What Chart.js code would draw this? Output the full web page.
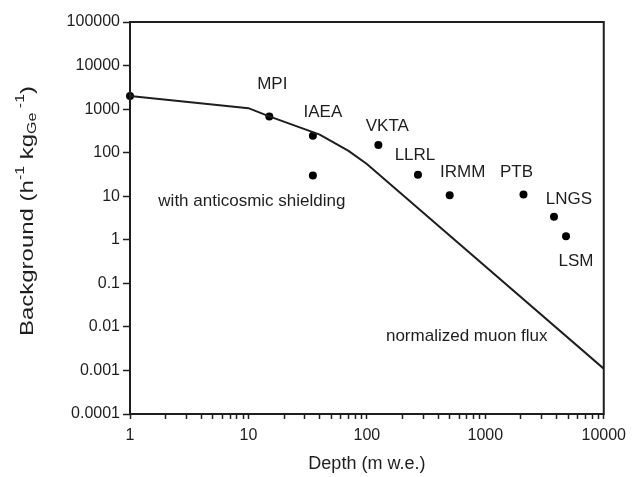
<!DOCTYPE html>
<html>
<head>
<meta charset="utf-8">
<script src="https://cdn.jsdelivr.net/npm/chart.js@4.4.1/dist/chart.umd.min.js"></script>
<style>
  html, body { margin: 0; padding: 0; background: #fff; }
  #wrap { width: 633px; height: 477px; position: relative; }
  canvas { display: block; }
</style>
</head>
<body>
<div id="wrap"><canvas id="c" width="633" height="477"></canvas></div>
<script>
// ---- data ----
const labNames   = ['', 'MPI', 'IAEA', 'IAEA*', 'VKTA', 'LLRL', 'IRMM', 'PTB', 'LNGS', 'LSM'];
const labDepth   = [1, 15, 35, 35, 125, 270, 500, 2100, 3800, 4800];
const labBackgr  = [2000, 680, 245, 30, 150, 31, 10.5, 11, 3.4, 1.2];

const muonDepth  = [1, 10, 15, 40, 70, 100, 10000];
const muonFlux   = [2000, 1050, 680, 260, 110, 55, 0.0011];

const xTickValues = [1, 10, 100, 1000, 10000];
const xTickLabels = ['1', '10', '100', '1000', '10000'];
const yTickValues = [0.0001, 0.001, 0.01, 0.1, 1, 10, 100, 1000, 10000, 100000];
const yTickLabels = ['0.0001', '0.001', '0.01', '0.1', '1', '10', '100', '1000', '10000', '100000'];

// ---- annotation placement (pixel offsets from each lab's point) ----
const labelOffsets = {
  'MPI':  [3, -32],
  'IAEA': [10, -23],
  'VKTA': [9, -19],
  'LLRL': [-3, -20],
  'IRMM': [13, -23],
  'PTB':  [-7, -22],
  'LNGS': [15, -17],
  'LSM':  [10, 25],
  'IAEA*': [-61, 26]
};
const starText = 'with anticosmic shielding';
const muonNote = { text: 'normalized muon flux', x: 697, y: 0.006 };

const INK = '#1e1e1e';
const FONT = 'Liberation Sans, Arial, Helvetica, sans-serif';

// minor x ticks built from decades
function xMinorTicks() {
  const t = [];
  for (let d = 0; d < xTickValues.length - 1; d++) {
    for (let k = 1; k < 10; k++) t.push({ value: xTickValues[d] * k });
  }
  t.push({ value: xTickValues[xTickValues.length - 1] });
  return t;
}

const annotPlugin = {
  id: 'annot',
  afterDatasetsDraw(chart) {
    const ctx = chart.ctx;
    const xs = chart.scales.x, ys = chart.scales.y;
    const ca = chart.chartArea;
    ctx.save();
    // frame
    ctx.strokeStyle = INK;
    ctx.lineWidth = 2;
    ctx.strokeRect(ca.left, ca.top, ca.right - ca.left, ca.bottom - ca.top);
    // labels
    ctx.fillStyle = INK;
    ctx.font = '17px ' + FONT;
    ctx.textAlign = 'center';
    ctx.textBaseline = 'middle';
    labNames.forEach((n, i) => {
      if (!labelOffsets[n]) return;
      const px = xs.getPixelForValue(labDepth[i]) + labelOffsets[n][0];
      const py = ys.getPixelForValue(labBackgr[i]) + labelOffsets[n][1];
      ctx.fillText(n === 'IAEA*' ? starText : n, px, py);
    });
    ctx.fillText(muonNote.text, xs.getPixelForValue(muonNote.x), ys.getPixelForValue(muonNote.y));
    // y axis title with sub/superscripts
    const cy = 211;
    ctx.translate(28, cy);
    ctx.rotate(-Math.PI / 2);
    const parts = [
      ['Background (h', 0, 18],
      ['-1', -7, 12],
      [' kg', 0, 18],
      ['Ge', 5, 12],
      [' -1', -7, 12],
      [')', 0, 18]
    ];
    let total = 0;
    parts.forEach(p => { ctx.font = p[2] + 'px ' + FONT; total += ctx.measureText(p[0]).width; });
    const stretch = 250 / total;
    ctx.scale(stretch, 1);
    let x = -total / 2;
    ctx.textAlign = 'left';
    parts.forEach(p => {
      ctx.font = p[2] + 'px ' + FONT;
      ctx.fillText(p[0], x, p[1]);
      x += ctx.measureText(p[0]).width;
    });
    ctx.restore();
  }
};

new Chart(document.getElementById('c'), {
  type: 'scatter',
  data: {
    datasets: [
      {
        data: muonDepth.map((d, i) => ({ x: d, y: muonFlux[i] })),
        showLine: true,
        borderColor: INK,
        borderWidth: 2,
        pointRadius: 0,
        tension: 0,
        fill: false
      },
      {
        data: labDepth.map((d, i) => ({ x: d, y: labBackgr[i] })),
        showLine: false,
        pointRadius: 4,
        pointBackgroundColor: '#000',
        pointBorderColor: '#000',
        pointBorderWidth: 0,
        clip: false
      }
    ]
  },
  options: {
    responsive: false,
    animation: false,
    devicePixelRatio: 1,
    layout: { padding: { left: 0, top: 22, right: 26, bottom: 0 } },
    plugins: { legend: { display: false }, tooltip: { enabled: false } },
    scales: {
      x: {
        type: 'logarithmic',
        min: 1, max: 10000,
        afterBuildTicks: s => { s.ticks = xMinorTicks(); },
        afterFit: s => { s.height = 63; },
        border: { display: false },
        grid: { drawOnChartArea: false, drawTicks: true, tickLength: 5, tickColor: INK, tickWidth: 1.5 },
        ticks: {
          autoSkip: false, maxRotation: 0, padding: 7, color: INK,
          font: { size: 16, family: FONT },
          callback: v => { const i = xTickValues.indexOf(v); return i >= 0 ? xTickLabels[i] : ''; }
        },
        title: { display: true, text: 'Depth (m w.e.)', color: INK, font: { size: 18, family: FONT }, padding: { top: 0, bottom: 2 } }
      },
      y: {
        type: 'logarithmic',
        min: 0.0001, max: 100000,
        afterBuildTicks: s => { s.ticks = yTickValues.map(v => ({ value: v })); },
        afterFit: s => { s.width = 130; },
        border: { display: false },
        grid: { drawOnChartArea: false, drawTicks: true, tickLength: 7, tickColor: INK, tickWidth: 1.5 },
        ticks: {
          autoSkip: false, padding: 3, color: INK,
          font: { size: 16, family: FONT },
          callback: (v, i) => yTickLabels[i]
        }
      }
    }
  },
  plugins: [annotPlugin]
});
</script>
</body>
</html>
